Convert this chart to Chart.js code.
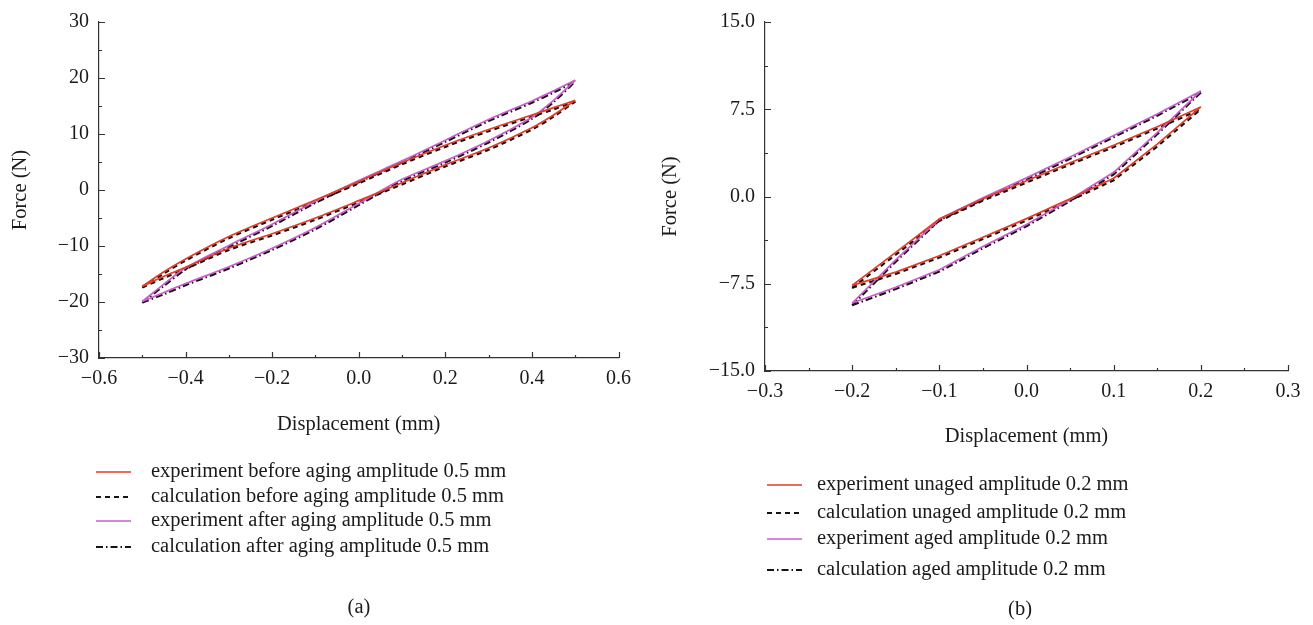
<!DOCTYPE html>
<html>
<head>
<meta charset="utf-8">
<script src="https://cdn.jsdelivr.net/npm/chart.js@4.4.0/dist/chart.umd.min.js"></script>
<style>
html, body { margin: 0; padding: 0; background: #fff; }
body { width: 1313px; height: 625px; position: relative; overflow: hidden; }
#wrapA { position: absolute; left: 0; top: 0; width: 640px; height: 625px; }
#wrapB { position: absolute; left: 650px; top: 0; width: 663px; height: 625px; }
</style>
</head>
<body>
<div id="wrapA"><canvas id="chartA"></canvas></div>
<div id="wrapB"><canvas id="chartB"></canvas></div>
<script>
// displacement samples (mm)
var dispA = [-0.5, -0.45, -0.4, -0.3, -0.2, -0.1, 0, 0.1, 0.2, 0.3, 0.4, 0.45, 0.5];
var dispB = [-0.2, -0.15, -0.1, -0.05, 0, 0.05, 0.1, 0.15, 0.2];

// (a) force in N, upper and lower branch of each loop
var expBeforeUp   = [-17.2, -14.6, -12.3, -8.3, -5.0, -1.8, 1.5, 4.9, 8.0, 10.8, 13.4, 14.7, 16.0];
var expBeforeLow  = [-17.2, -15.4, -13.8, -10.4, -7.8, -5.0, -1.9, 1.3, 4.5, 7.5, 11.1, 13.4, 16.0];
var calcBeforeUp  = [-17.4, -14.9, -12.6, -8.6, -5.3, -2.1, 1.2, 4.6, 7.7, 10.5, 13.1, 14.4, 15.8];
var calcBeforeLow = [-17.4, -15.7, -14.1, -10.7, -8.1, -5.3, -2.2, 1.0, 4.2, 7.2, 10.8, 13.1, 15.8];
var expAfterUp    = [-19.9, -16.8, -13.9, -9.9, -6.1, -2.0, 1.7, 5.2, 8.9, 12.6, 15.9, 17.7, 19.6];
var expAfterLow   = [-19.9, -18.3, -16.7, -13.7, -10.4, -6.7, -2.4, 1.9, 5.2, 8.8, 13.0, 16.0, 19.6];
var calcAfterUp   = [-20.1, -17.1, -14.2, -10.2, -6.4, -2.3, 1.4, 4.9, 8.6, 12.3, 15.6, 17.4, 19.4];
var calcAfterLow  = [-20.1, -18.6, -17.0, -14.0, -10.7, -7.0, -2.7, 1.6, 4.9, 8.5, 12.7, 15.7, 19.4];

// (b) force in N
var expUnagedUp   = [-7.64, -4.8, -1.94, -0.2, 1.35, 2.9, 4.4, 6.0, 7.7];
var expUnagedLow  = [-7.64, -6.5, -5.1, -3.5, -1.9, -0.2, 1.57, 4.5, 7.7];
var calcUnagedUp  = [-7.85, -5.0, -2.1, -0.35, 1.2, 2.75, 4.25, 5.85, 7.5];
var calcUnagedLow = [-7.85, -6.65, -5.25, -3.65, -2.05, -0.35, 1.4, 4.3, 7.5];
var expAgedUp     = [-9.16, -5.45, -1.94, -0.1, 1.6, 3.4, 5.25, 7.1, 9.07];
var expAgedLow    = [-9.16, -7.8, -6.3, -4.3, -2.4, -0.25, 2.08, 5.5, 9.07];
var calcAgedUp    = [-9.35, -5.6, -2.05, -0.25, 1.45, 3.25, 5.1, 6.95, 8.95];
var calcAgedLow   = [-9.35, -7.95, -6.45, -4.45, -2.55, -0.4, 1.9, 5.35, 8.95];

// axis ticks
var aXTicks = [-0.6, -0.4, -0.2, 0, 0.2, 0.4, 0.6];
var aXMinor = [-0.5, -0.3, -0.1, 0.1, 0.3, 0.5];
var aYTicks = [-30, -20, -10, 0, 10, 20, 30];
var aYMinor = [-25, -15, -5, 5, 15, 25];
var bXTicks = [-0.3, -0.2, -0.1, 0, 0.1, 0.2, 0.3];
var bXMinor = [-0.25, -0.15, -0.05, 0.05, 0.15, 0.25];
var bYTicks = [-15, -7.5, 0, 7.5, 15];
var bYMinor = [-11.25, -3.75, 3.75, 11.25];

var legendA = ['experiment before aging amplitude 0.5 mm', 'calculation before aging amplitude 0.5 mm',
               'experiment after aging amplitude 0.5 mm', 'calculation after aging amplitude 0.5 mm'];
var legendB = ['experiment unaged amplitude 0.2 mm', 'calculation unaged amplitude 0.2 mm',
               'experiment aged amplitude 0.2 mm', 'calculation aged amplitude 0.2 mm'];

var SERIF = "'Liberation Serif', 'Times New Roman', serif";
var INK = '#1a1a1a';
var RED = '#e63b27';
var PINK = '#cc5ccc';
var BLACK = '#141414';

// one style per legend entry: exp red, calc dashed, exp pink, calc dash-dot
var styles = [
  { color: RED, width: 1.7, dash: [] },
  { color: BLACK, width: 2.2, dash: [5, 4] },
  { color: PINK, width: 1.7, dash: [] },
  { color: BLACK, width: 2.2, dash: [7, 3, 1.5, 3] }
];

function pts(xs, ys) {
  return xs.map(function (x, i) { return { x: x, y: ys[i] }; });
}

function fmt(digits) {
  return function (v) { return Number(v).toFixed(digits).replace('-', '\u2212'); };
}

function branch(xs, ys, st, tension, order) {
  return {
    data: pts(xs, ys),
    showLine: true,
    borderColor: st.color,
    borderWidth: st.width,
    borderDash: st.dash,
    pointRadius: 0,
    tension: tension,
    fill: false,
    order: order
  };
}

// inward major/minor tick marks plus the legend and panel letter below the plot
var decorPlugin = {
  id: 'decor',
  afterDraw: function (chart, args, opts) {
    var ctx = chart.ctx;
    var xs = chart.scales.x, ys = chart.scales.y;
    var area = chart.chartArea;
    ctx.save();
    ctx.strokeStyle = '#333';
    ctx.lineWidth = 1.2;
    ctx.beginPath();
    opts.xMajor.forEach(function (v) {
      var p = Math.round(xs.getPixelForValue(v)) + 0.5;
      ctx.moveTo(p, area.bottom); ctx.lineTo(p, area.bottom - 6);
    });
    opts.xMinor.forEach(function (v) {
      var p = Math.round(xs.getPixelForValue(v)) + 0.5;
      ctx.moveTo(p, area.bottom); ctx.lineTo(p, area.bottom - 3);
    });
    opts.yMajor.forEach(function (v) {
      var p = Math.round(ys.getPixelForValue(v)) + 0.5;
      ctx.moveTo(area.left, p); ctx.lineTo(area.left + 6, p);
    });
    opts.yMinor.forEach(function (v) {
      var p = Math.round(ys.getPixelForValue(v)) + 0.5;
      ctx.moveTo(area.left, p); ctx.lineTo(area.left + 3, p);
    });
    ctx.stroke();

    ctx.font = '20.5px ' + SERIF;
    ctx.textBaseline = 'middle';
    ctx.fillStyle = INK;
    opts.labels.forEach(function (text, i) {
      var y = opts.rows[i];
      var st = styles[i];
      ctx.beginPath();
      ctx.setLineDash(st.dash);
      ctx.strokeStyle = st.color;
      ctx.lineWidth = st.width;
      ctx.moveTo(opts.lineX0, y); ctx.lineTo(opts.lineX1, y);
      ctx.stroke();
      ctx.setLineDash([]);
      ctx.textAlign = 'left';
      ctx.fillText(text, opts.textX, y);
    });
    ctx.textAlign = 'center';
    ctx.fillText(opts.panel, opts.panelX, opts.panelY);
    ctx.restore();
  }
};

function makeChart(id, c) {
  var tickFont = { family: SERIF, size: 20 };
  var titleFont = { family: SERIF, size: 20.5 };
  var datasets = [];
  c.series.forEach(function (s, i) {
    // experiment curves sit on top of the calculated ones
    var order = (i % 2 === 0) ? 0 : 1;
    datasets.push(branch(c.xs, s[0], styles[i], c.tension, order));
    datasets.push(branch(c.xs, s[1], styles[i], c.tension, order));
  });
  return new Chart(document.getElementById(id), {
    type: 'scatter',
    data: { datasets: datasets },
    options: {
      responsive: true,
      maintainAspectRatio: false,
      animation: false,
      layout: { padding: c.padding },
      plugins: {
        legend: { display: false },
        tooltip: { enabled: false },
        decor: c.decor
      },
      scales: {
        x: {
          type: 'linear',
          min: c.xMin, max: c.xMax,
          afterBuildTicks: function (s) { s.ticks = c.xTicks.map(function (v) { return { value: v }; }); },
          afterFit: function (s) { s.height = c.xHeight; },
          ticks: { callback: fmt(1), font: tickFont, color: INK, padding: 9, maxRotation: 0, autoSkip: false },
          grid: { display: false, drawTicks: false },
          border: { display: true, color: '#333', width: 1.2 },
          title: { display: true, text: 'Displacement (mm)', font: titleFont, color: INK, padding: 0 }
        },
        y: {
          type: 'linear',
          min: c.yMin, max: c.yMax,
          afterBuildTicks: function (s) { s.ticks = c.yTicks.map(function (v) { return { value: v }; }); },
          afterFit: function (s) { s.width = c.yWidth; },
          ticks: { callback: fmt(c.yDigits), font: tickFont, color: INK, padding: 10, autoSkip: false },
          grid: { display: false, drawTicks: false },
          border: { display: true, color: '#333', width: 1.2 },
          title: { display: true, text: 'Force (N)', font: titleFont, color: INK, padding: { top: 8, bottom: 0 } }
        }
      }
    },
    plugins: [decorPlugin]
  });
}

makeChart('chartA', {
  xs: dispA,
  series: [[expBeforeUp, expBeforeLow], [calcBeforeUp, calcBeforeLow],
           [expAfterUp, expAfterLow], [calcAfterUp, calcAfterLow]],
  tension: 0.3,
  xMin: -0.6, xMax: 0.6, yMin: -30, yMax: 30,
  xTicks: aXTicks, yTicks: aYTicks, yDigits: 0,
  xHeight: 79, yWidth: 99,
  padding: { top: 14, right: 21, bottom: 188, left: 0 },
  decor: {
    xMajor: aXTicks, xMinor: aXMinor, yMajor: aYTicks, yMinor: aYMinor,
    labels: legendA, rows: [472, 497, 521, 547],
    lineX0: 96, lineX1: 131, textX: 151,
    panel: '(a)', panelX: 359, panelY: 608
  }
});

makeChart('chartB', {
  xs: dispB,
  series: [[expUnagedUp, expUnagedLow], [calcUnagedUp, calcUnagedLow],
           [expAgedUp, expAgedLow], [calcAgedUp, calcAgedLow]],
  tension: 0,
  xMin: -0.3, xMax: 0.3, yMin: -15, yMax: 15,
  xTicks: bXTicks, yTicks: bYTicks, yDigits: 1,
  xHeight: 78, yWidth: 115,
  padding: { top: 14, right: 25, bottom: 176, left: 0 },
  decor: {
    xMajor: bXTicks, xMinor: bXMinor, yMajor: bYTicks, yMinor: bYMinor,
    labels: legendB, rows: [485, 513, 539, 570],
    lineX0: 117, lineX1: 152, textX: 167,
    panel: '(b)', panelX: 370, panelY: 610
  }
});
</script>
</body>
</html>
